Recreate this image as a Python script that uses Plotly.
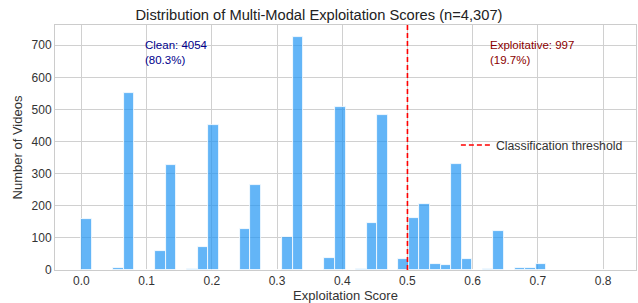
import numpy as np
import plotly.graph_objects as go

bin_start = 0.0
bin_width = 0.0162
counts = [160, 0, 0, 5, 550, 0, 0, 60, 327, 0,
          2, 72, 452, 0, 0, 128, 265, 0, 0, 103,
          725, 0, 0, 37, 508, 0, 2, 146, 484, 0,
          34, 162, 205, 20, 16, 330, 34, 0, 3, 122,
          0, 5, 5, 20, 0, 1, 1, 0, 0, 0]
threshold = 0.5
x_ticks = [0.0, 0.1, 0.2, 0.3, 0.4, 0.5, 0.6, 0.7, 0.8]
y_ticks = [0, 100, 200, 300, 400, 500, 600, 700]
clean_text = "Clean: 4054<br>(80.3%)"
expl_text = "Exploitative: 997<br>(19.7%)"

centers = bin_start + bin_width * (np.arange(len(counts)) + 0.5)

FONT = "Liberation Sans, Arial, sans-serif"
fig = go.Figure()
fig.add_trace(go.Bar(
    x=centers, y=counts, width=bin_width,
    marker=dict(color="rgba(33,150,243,0.7)", line=dict(color="white", width=0.8)),
    showlegend=False, hoverinfo="x+y"))
fig.add_trace(go.Scatter(
    x=[threshold, threshold], y=[0, 763], mode="lines",
    line=dict(color="red", width=1.6, dash="5px,3px"),
    name="Classification threshold"))

fig.add_annotation(xref="paper", yref="paper", x=0.152, y=0.95, text=clean_text,
                   showarrow=False, xanchor="left", yanchor="top", align="left",
                   font=dict(family=FONT, size=11.5, color="#00008B"))
fig.add_annotation(xref="paper", yref="paper", x=0.746, y=0.95, text=expl_text,
                   showarrow=False, xanchor="left", yanchor="top", align="left",
                   font=dict(family=FONT, size=11.5, color="#8B0000"))

fig.update_layout(
    width=638, height=303,
    margin=dict(l=55, r=2, t=25, b=33),
    paper_bgcolor="white", plot_bgcolor="white",
    font=dict(family=FONT, size=11, color="#333"),
    title=dict(text="Distribution of Multi-Modal Exploitation Scores (n=4,307)",
               x=0.5, xanchor="center", y=0.952, yanchor="middle",
               font=dict(family=FONT, size=14.7, color="#222")),
    bargap=0,
    legend=dict(x=0.69, y=0.51, xanchor="left", yanchor="middle",
                bgcolor="rgba(0,0,0,0)", font=dict(family=FONT, size=12.3, color="#333")),
    showlegend=True,
)
fig.update_xaxes(range=[-0.0405, 0.8505], tickvals=x_ticks,
                 ticktext=[f"{v:.1f}" for v in x_ticks],
                 showgrid=True, gridcolor="#d0d0d0", gridwidth=1,
                 showline=True, linecolor="#cccccc", mirror=True, zeroline=False,
                 ticks="", tickfont=dict(size=12, color="#333"),
                 title=dict(text="Exploitation Score", font=dict(size=13, color="#333"), standoff=4))
fig.update_yaxes(range=[0, 763], tickvals=y_ticks,
                 showgrid=True, gridcolor="#d0d0d0", gridwidth=1,
                 showline=True, linecolor="#cccccc", mirror=True, zeroline=False,
                 ticks="", tickfont=dict(size=12, color="#333"),
                 title=dict(text="Number of Videos", font=dict(size=13, color="#333"), standoff=6))
fig.write_html("out.html", config={"displayModeBar": False},
               post_script="document.body.style.margin='0';document.body.style.overflow='hidden';")
